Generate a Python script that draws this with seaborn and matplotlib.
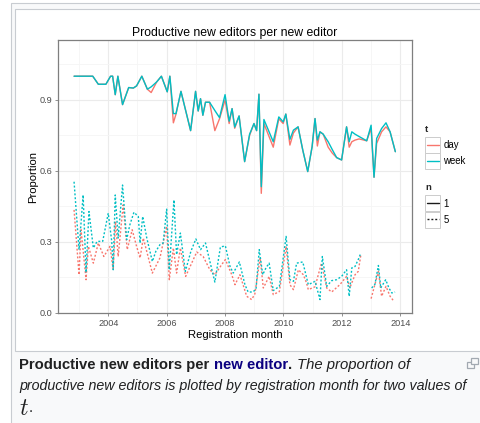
import numpy as np
import pandas as pd
import matplotlib
matplotlib.use("Agg")
import matplotlib.pyplot as plt
from matplotlib.patches import Rectangle
from matplotlib.lines import Line2D
import seaborn as sns

# ---------------------------------------------------------------------------
# Data: registration month (decimal year) and proportion of productive editors
# ---------------------------------------------------------------------------
# n = 1 edit threshold (solid lines), shared months for t = day / week
n1_month = [2002.83, 2003.47, 2003.66, 2003.92, 2004.08, 2004.15, 2004.24, 2004.33,
            2004.49, 2004.70, 2004.86, 2004.97, 2005.15, 2005.34, 2005.47, 2005.66,
            2005.82, 2006.02, 2006.11, 2006.23, 2006.32, 2006.49, 2006.82, 2006.99,
            2007.08, 2007.16, 2007.24, 2007.33, 2007.47, 2007.65, 2007.81, 2008.00,
            2008.14, 2008.24, 2008.33, 2008.48, 2008.67, 2008.84, 2008.99, 2009.08,
            2009.16, 2009.24, 2009.33, 2009.65, 2009.84, 2009.99, 2010.08, 2010.22,
            2010.34, 2010.50, 2010.66, 2010.83, 2010.98, 2011.08, 2011.16, 2011.25,
            2011.36, 2011.53, 2011.67, 2011.82, 2011.99, 2012.16, 2012.25, 2012.34,
            2012.45, 2012.59, 2012.85, 2013.00, 2013.10, 2013.19, 2013.36, 2013.51,
            2013.65, 2013.83]
n1_week = [1.00, 1.00, 0.966, 0.966, 1.00, 1.00, 0.922, 1.00,
           0.88, 0.952, 0.95, 0.959, 1.00, 0.945, 0.955, 0.976,
           1.00, 0.934, 1.00, 0.842, 0.842, 0.936, 0.77, 0.936,
           0.853, 0.905, 0.835, 0.89, 0.89, 0.855, 0.825, 0.922,
           0.81, 0.863, 0.785, 0.832, 0.639, 0.755, 0.80, 0.77,
           0.924, 0.533, 0.817, 0.723, 0.828, 0.807, 0.84, 0.733,
           0.772, 0.786, 0.688, 0.597, 0.702, 0.821, 0.73, 0.765,
           0.755, 0.723, 0.69, 0.656, 0.646, 0.786, 0.723, 0.765,
           0.755, 0.745, 0.727, 0.793, 0.573, 0.737, 0.779, 0.803,
           0.765, 0.681]
n1_day = [1.00, 1.00, 0.966, 0.966, 1.00, 1.00, 0.922, 1.00,
          0.88, 0.952, 0.95, 0.959, 1.00, 0.945, 0.931, 0.976,
          1.00, 0.934, 1.00, 0.803, 0.84, 0.936, 0.77, 0.936,
          0.853, 0.905, 0.835, 0.89, 0.89, 0.77, 0.82, 0.90,
          0.80, 0.863, 0.78, 0.832, 0.639, 0.75, 0.80, 0.77,
          0.924, 0.505, 0.80, 0.70, 0.82, 0.80, 0.84, 0.709,
          0.76, 0.786, 0.688, 0.597, 0.702, 0.821, 0.705, 0.765,
          0.755, 0.70, 0.675, 0.656, 0.646, 0.786, 0.70, 0.723,
          0.73, 0.735, 0.727, 0.78, 0.573, 0.716, 0.765, 0.786,
          0.765, 0.681]

# n = 5 edit threshold (dotted lines); NaN marks the months with no data
n5_week_month = [2002.83, 2003.00, 2003.14, 2003.24, 2003.34, 2003.49, 2003.62, 2003.81,
                 2004.00, 2004.12, 2004.17, 2004.24, 2004.34, 2004.49, 2004.63, 2004.74,
                 2004.88, 2005.03, 2005.09, 2005.18, 2005.32, 2005.51, 2005.63, 2005.77,
                 2005.88, 2006.00, 2006.09, 2006.25, 2006.34, 2006.47, 2006.64, 2006.83,
                 2007.00, 2007.16, 2007.33, 2007.48, 2007.65, 2007.84, 2008.01, 2008.17,
                 2008.28, 2008.49, 2008.68, 2008.79, 2008.95, 2009.06, 2009.17, 2009.29,
                 2009.40, 2009.51, 2009.65, 2009.86, 2010.09, 2010.22, 2010.34, 2010.45,
                 2010.66, 2010.85, 2011.08, 2011.25, 2011.33, 2011.48, 2011.65, 2011.82,
                 2011.99, 2012.16, 2012.25, 2012.34, 2012.45, 2012.56, 2012.65, 2012.80,
                 2013.02, 2013.13, 2013.25, 2013.33, 2013.50, 2013.61, 2013.71, 2013.82]
n5_week = [0.554, 0.267, 0.498, 0.17, 0.428, 0.274, 0.302, 0.302,
           0.421, 0.302, 0.182, 0.498, 0.316, 0.54, 0.309, 0.372,
           0.425, 0.407, 0.295, 0.407, 0.316, 0.217, 0.26, 0.288,
           0.295, 0.438, 0.182, 0.477, 0.246, 0.337, 0.175, 0.26,
           0.312, 0.267, 0.295, 0.217, 0.13, 0.278, 0.283, 0.196,
           0.168, 0.215, 0.119, 0.088, 0.088, 0.10, 0.267, 0.161,
           0.19, 0.21, 0.094, 0.112, 0.323, 0.14, 0.133, 0.21,
           0.215, 0.119, 0.133, 0.056, 0.238, 0.112, 0.136, 0.14,
           0.154, 0.182, 0.07, 0.19, 0.196, 0.225, 0.253, np.nan,
           0.105, 0.12, 0.2, 0.105, 0.14, 0.105, 0.084, 0.088]

n5_day_month = [2002.83, 2003.00, 2003.07, 2003.24, 2003.32, 2003.49, 2003.66, 2003.85,
                2004.06, 2004.17, 2004.25, 2004.34, 2004.51, 2004.65, 2004.82, 2004.97,
                2005.09, 2005.20, 2005.51, 2005.77, 2006.00, 2006.09, 2006.23, 2006.34,
                2006.47, 2006.65, 2007.03, 2007.25, 2007.48, 2007.65, 2007.88, 2008.01,
                2008.23, 2008.34, 2008.51, 2008.74, 2008.91, 2009.02, 2009.20, 2009.31,
                2009.51, 2009.65, 2009.86, 2010.09, 2010.22, 2010.34, 2010.51, 2010.68,
                2010.79, 2010.85, 2011.08, 2011.30, 2011.48, 2011.65, 2011.93, 2012.16,
                2012.27, 2012.45, 2012.56, 2012.65, 2012.80,
                2013.00, 2013.25, 2013.36, 2013.51, 2013.65, 2013.76]
n5_day = [0.435, 0.161, 0.351, 0.14, 0.281, 0.21, 0.295, 0.238,
          0.281, 0.182, 0.386, 0.238, 0.456, 0.267, 0.351, 0.281,
          0.232, 0.316, 0.168, 0.232, 0.365, 0.14, 0.274, 0.168,
          0.274, 0.154, 0.257, 0.238, 0.182, 0.161, 0.203, 0.225,
          0.161, 0.119, 0.161, 0.07, 0.056, 0.08, 0.232, 0.105,
          0.154, 0.077, 0.09, 0.281, 0.119, 0.098, 0.182, 0.161,
          0.126, 0.098, 0.11, 0.21, 0.105, 0.088, 0.119, 0.154,
          0.105, 0.161, 0.175, 0.246, np.nan,
          0.06, 0.175, 0.07, 0.112, 0.07, 0.052]

t_levels = ["day", "week"]
n_levels = ["1", "5"]
palette = {"day": "#F8766D", "week": "#00BFC4"}

# ---------------------------------------------------------------------------
# Long table, one row per point; runs separated by NaN become separate units
# ---------------------------------------------------------------------------
def series(month, value, t, n):
    d = pd.DataFrame({"month": month, "proportion": value})
    run = d["proportion"].isna().cumsum()
    d["t"] = t
    d["n"] = n
    d["seg"] = [f"{t}-{n}-{r}" for r in run]
    return d.dropna()

df = pd.concat([
    series(n5_day_month, n5_day, "day", "5"),
    series(n1_month, n1_day, "day", "1"),
    series(n5_week_month, n5_week, "week", "5"),
    series(n1_month, n1_week, "week", "1"),
], ignore_index=True)

# ---------------------------------------------------------------------------
# Figure
# ---------------------------------------------------------------------------
sns.set_theme(style="white")
plt.rcParams["font.family"] = ["Liberation Sans", "DejaVu Sans"]
plt.rcParams["mathtext.fontset"] = "cm"

W, H = 481, 423
fig = plt.figure(figsize=(W / 100, H / 100), dpi=100)
fig.patch.set_facecolor("white")


def fpos(x, y):
    """pixel position measured from the top-left corner -> figure fraction"""
    return x / W, 1 - y / H


# thumbnail frame and caption box
fig.add_artist(Rectangle(fpos(10.5, 440), (520 - 10.5) / W, (440 - 3.5) / H,
                         transform=fig.transFigure, fc="#f8f9fa", ec="#c8ccd1",
                         lw=0.8, zorder=-3))
fig.add_artist(Rectangle(fpos(15.5, 350.5), (520 - 15.5) / W, (350.5 - 8.5) / H,
                         transform=fig.transFigure, fc="white", ec="#c8ccd1",
                         lw=0.8, zorder=-2))

ax = fig.add_axes([58 / W, 1 - 313.3 / H, 353.7 / W, 273.3 / H])
ax.set_facecolor("white")

sns.lineplot(data=df, x="month", y="proportion", hue="t", style="n",
             units="seg", estimator=None, hue_order=t_levels,
             style_order=n_levels, palette=palette,
             dashes={"1": "", "5": (1.4, 1.4)}, linewidth=1.0,
             legend=False, ax=ax)

ax.set_xlim(2002.28, 2014.39)
ax.set_ylim(-0.002, 1.153)
ax.set_xticks(range(2004, 2015, 2))
ax.set_xticklabels([str(y) for y in range(2004, 2015, 2)])
ax.set_xticks(range(2003, 2014, 2), minor=True)
ax.set_yticks([0.0, 0.3, 0.6, 0.9])
ax.set_yticklabels(["0.0", "0.3", "0.6", "0.9"])
ax.set_yticks([0.15, 0.45, 0.75, 1.05], minor=True)
ax.grid(which="major", color="#ebebeb", lw=0.8)
ax.grid(which="minor", color="#f5f5f5", lw=0.6)
ax.set_axisbelow(True)
ax.tick_params(which="major", length=2.4, width=0.6, color="#7f7f7f",
               labelsize=6.6, labelcolor="#4d4d4d", pad=1.4,
               bottom=True, left=True)
ax.tick_params(which="minor", length=0)
for s in ax.spines.values():
    s.set_color("#7f7f7f")
    s.set_linewidth(0.9)

ax.set_xlabel("Registration month", fontsize=8.1, color="black", labelpad=2.0)
ax.set_ylabel("Proportion", fontsize=8.1, color="black", labelpad=1.5)
ax.set_title("Productive new editors per new editor", fontsize=8.8,
             color="black", pad=3.0)

# ---------------------------------------------------------------------------
# ggplot-style legends: "t" (colour) and "n" (line type)
# ---------------------------------------------------------------------------
def legend_block(title, title_y, top, entries):
    fig.text(*fpos(425, title_y), title, fontsize=6.8, fontweight="bold",
             va="center", ha="left")
    y = top
    for label, color, dash in entries:
        fig.add_artist(Rectangle(fpos(425.5, y + 16), 15 / W, 16 / H,
                                 transform=fig.transFigure, fc="white",
                                 ec="#cccccc", lw=0.7))
        x0, yc = fpos(427, y + 8)
        x1, _ = fpos(439, y + 8)
        ln = Line2D([x0, x1], [yc, yc], transform=fig.transFigure,
                    color=color, lw=1.0)
        if dash:
            ln.set_dashes(dash)
        fig.add_artist(ln)
        fig.text(*fpos(443.3, y + 8), label, fontsize=6.9, va="center",
                 ha="left", color="black")
        y += 16


legend_block("t", 129.3, 137, [("day", palette["day"], None),
                               ("week", palette["week"], None)])
legend_block("n", 187.3, 195.5, [("1", "#1a1a1a", None),
                                 ("5", "#1a1a1a", (1.4, 1.4))])

# ---------------------------------------------------------------------------
# Caption
# ---------------------------------------------------------------------------
renderer = fig.canvas.get_renderer()


def caption_run(pieces, x, baseline, size):
    space_px = 0.278 * size * 100 / 72
    for text, kw, gap in pieces:
        x += gap * space_px
        t = fig.text(*fpos(x, baseline), text, fontsize=size, va="baseline",
                     ha="left", **kw)
        x = t.get_window_extent(renderer).x1


ink = "#202122"
caption_run([
    ("Productive new editors per", dict(fontweight="bold", color=ink), 0),
    ("new editor", dict(fontweight="bold", color="#0b0080"), 1),
    (".", dict(fontweight="bold", color=ink), 0.15),
    ("The proportion of", dict(style="italic", color=ink), 1),
], 19.3, 368.5, 10.75)
caption_run([
    ("productive new editors is plotted by registration month for two values of",
     dict(style="italic", color=ink), 0),
], 19.3, 389.5, 10.3)
fig.text(*fpos(19.0, 415), r"$t$", fontsize=17, color=ink, va="baseline",
         ha="left")
fig.text(*fpos(28.5, 412), ".", fontsize=10.75, color=ink, va="baseline",
         ha="left")

# small enlarge icon at the caption's right
fig.add_artist(Rectangle(fpos(467.5, 368), 7 / W, 6 / H,
                         transform=fig.transFigure, fc="none", ec="#a2a9b1",
                         lw=0.9))
fig.add_artist(Rectangle(fpos(471.5, 364), 7 / W, 6 / H,
                         transform=fig.transFigure, fc="#f8f9fa", ec="#a2a9b1",
                         lw=0.9))

fig.savefig("out.png", dpi=100, facecolor=fig.get_facecolor())
